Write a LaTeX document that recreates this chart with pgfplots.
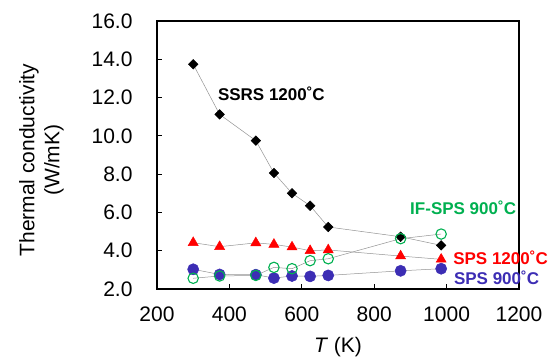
\documentclass[border=0pt]{standalone}
\usepackage{fontspec}
\setmainfont{Liberation Sans}
\usepackage{pgfplots}
\pgfplotsset{compat=1.18}
\definecolor{spsr}{RGB}{255,0,0}
\definecolor{spsb}{RGB}{60,45,180}
\definecolor{ifg}{RGB}{0,176,80}
\begin{document}
\begin{tikzpicture}
\path[use as bounding box] (-157bp,-70bp) rectangle (392bp,289bp);
\begin{axis}[
  at={(0,0)}, anchor=south west,
  scale only axis, width=362bp, height=268bp,
  xmin=200, xmax=1200, ymin=2, ymax=16,
  xtick={200,400,...,1200}, ytick={2,4,...,16},
  tick align=inside, axis line style={line width=1.2bp},
  major tick length=5bp, tick style={line width=1bp, black},
  xtick pos=bottom, ytick pos=left,
  /pgf/number format/assume math mode=true,
  yticklabel={\pgfmathprintnumber[fixed,fixed zerofill,precision=1]{\tick}},
  xticklabel={\pgfmathprintnumber[fixed,1000 sep={}]{\tick}},
  tick label style={font=\fontsize{21bp}{23bp}\selectfont},
  yticklabel style={xshift=-21bp},
  xticklabel style={yshift=-14bp},
  xlabel={\textit{T} (K)},
  xlabel style={font=\fontsize{21bp}{23bp}\selectfont, at={(axis description cs:0.5,-0.215)}, anchor=center},
  ylabel={Thermal conductivity\\(W/mK)},
  ylabel style={font=\fontsize{21bp}{25bp}\selectfont, align=center, at={(axis description cs:-0.319,0.481)}, anchor=center},
  clip=false,
]
\addplot[gray!85, line width=0.5bp, mark=square*, mark size=3.4bp, mark options={fill=black, draw=black, solid, rotate=45}] coordinates {
(300,13.74) (373,11.12) (473,9.75) (523,8.06) (573,7.00) (623,6.35) (673,5.24) (873,4.73) (985,4.28)};
\addplot[gray!85, line width=0.5bp, mark=triangle*, mark size=5.8bp, mark options={fill=spsr, draw=spsr, solid}] coordinates {
(300,4.42) (373,4.21) (473,4.41) (523,4.33) (573,4.19) (623,4.00) (673,4.04) (873,3.72) (985,3.55)};
\addplot[gray!85, line width=0.5bp, mark=*, mark size=5.6bp, mark options={fill=spsb, draw=spsb, solid}] coordinates {
(300,3.03) (373,2.76) (473,2.75) (523,2.57) (573,2.68) (623,2.66) (673,2.71) (873,2.95) (985,3.06)};
\addplot[gray!85, line width=0.5bp, mark=o, mark size=5.2bp, mark options={draw=ifg, line width=1.1bp, solid}] coordinates {
(300,2.56) (373,2.68) (473,2.71) (523,3.13) (573,3.06) (623,3.48) (673,3.58) (873,4.63) (985,4.87)};
\node[anchor=west, font=\fontsize{17bp}{19bp}\selectfont\bfseries, text=black, inner sep=0pt] at (axis cs:368,12.19) {SSRS 1200˚C};
\node[anchor=west, font=\fontsize{17bp}{19bp}\selectfont\bfseries, text=ifg, inner sep=0pt] at (axis cs:899,6.23) {IF-SPS 900˚C};
\node[anchor=west, font=\fontsize{17bp}{19bp}\selectfont\bfseries, text=spsr, inner sep=0pt] at (axis cs:1018,3.62) {SPS 1200˚C};
\node[anchor=west, font=\fontsize{17bp}{19bp}\selectfont\bfseries, text=spsb, inner sep=0pt] at (axis cs:1020,2.57) {SPS 900˚C};
\end{axis}
\end{tikzpicture}
\end{document}
